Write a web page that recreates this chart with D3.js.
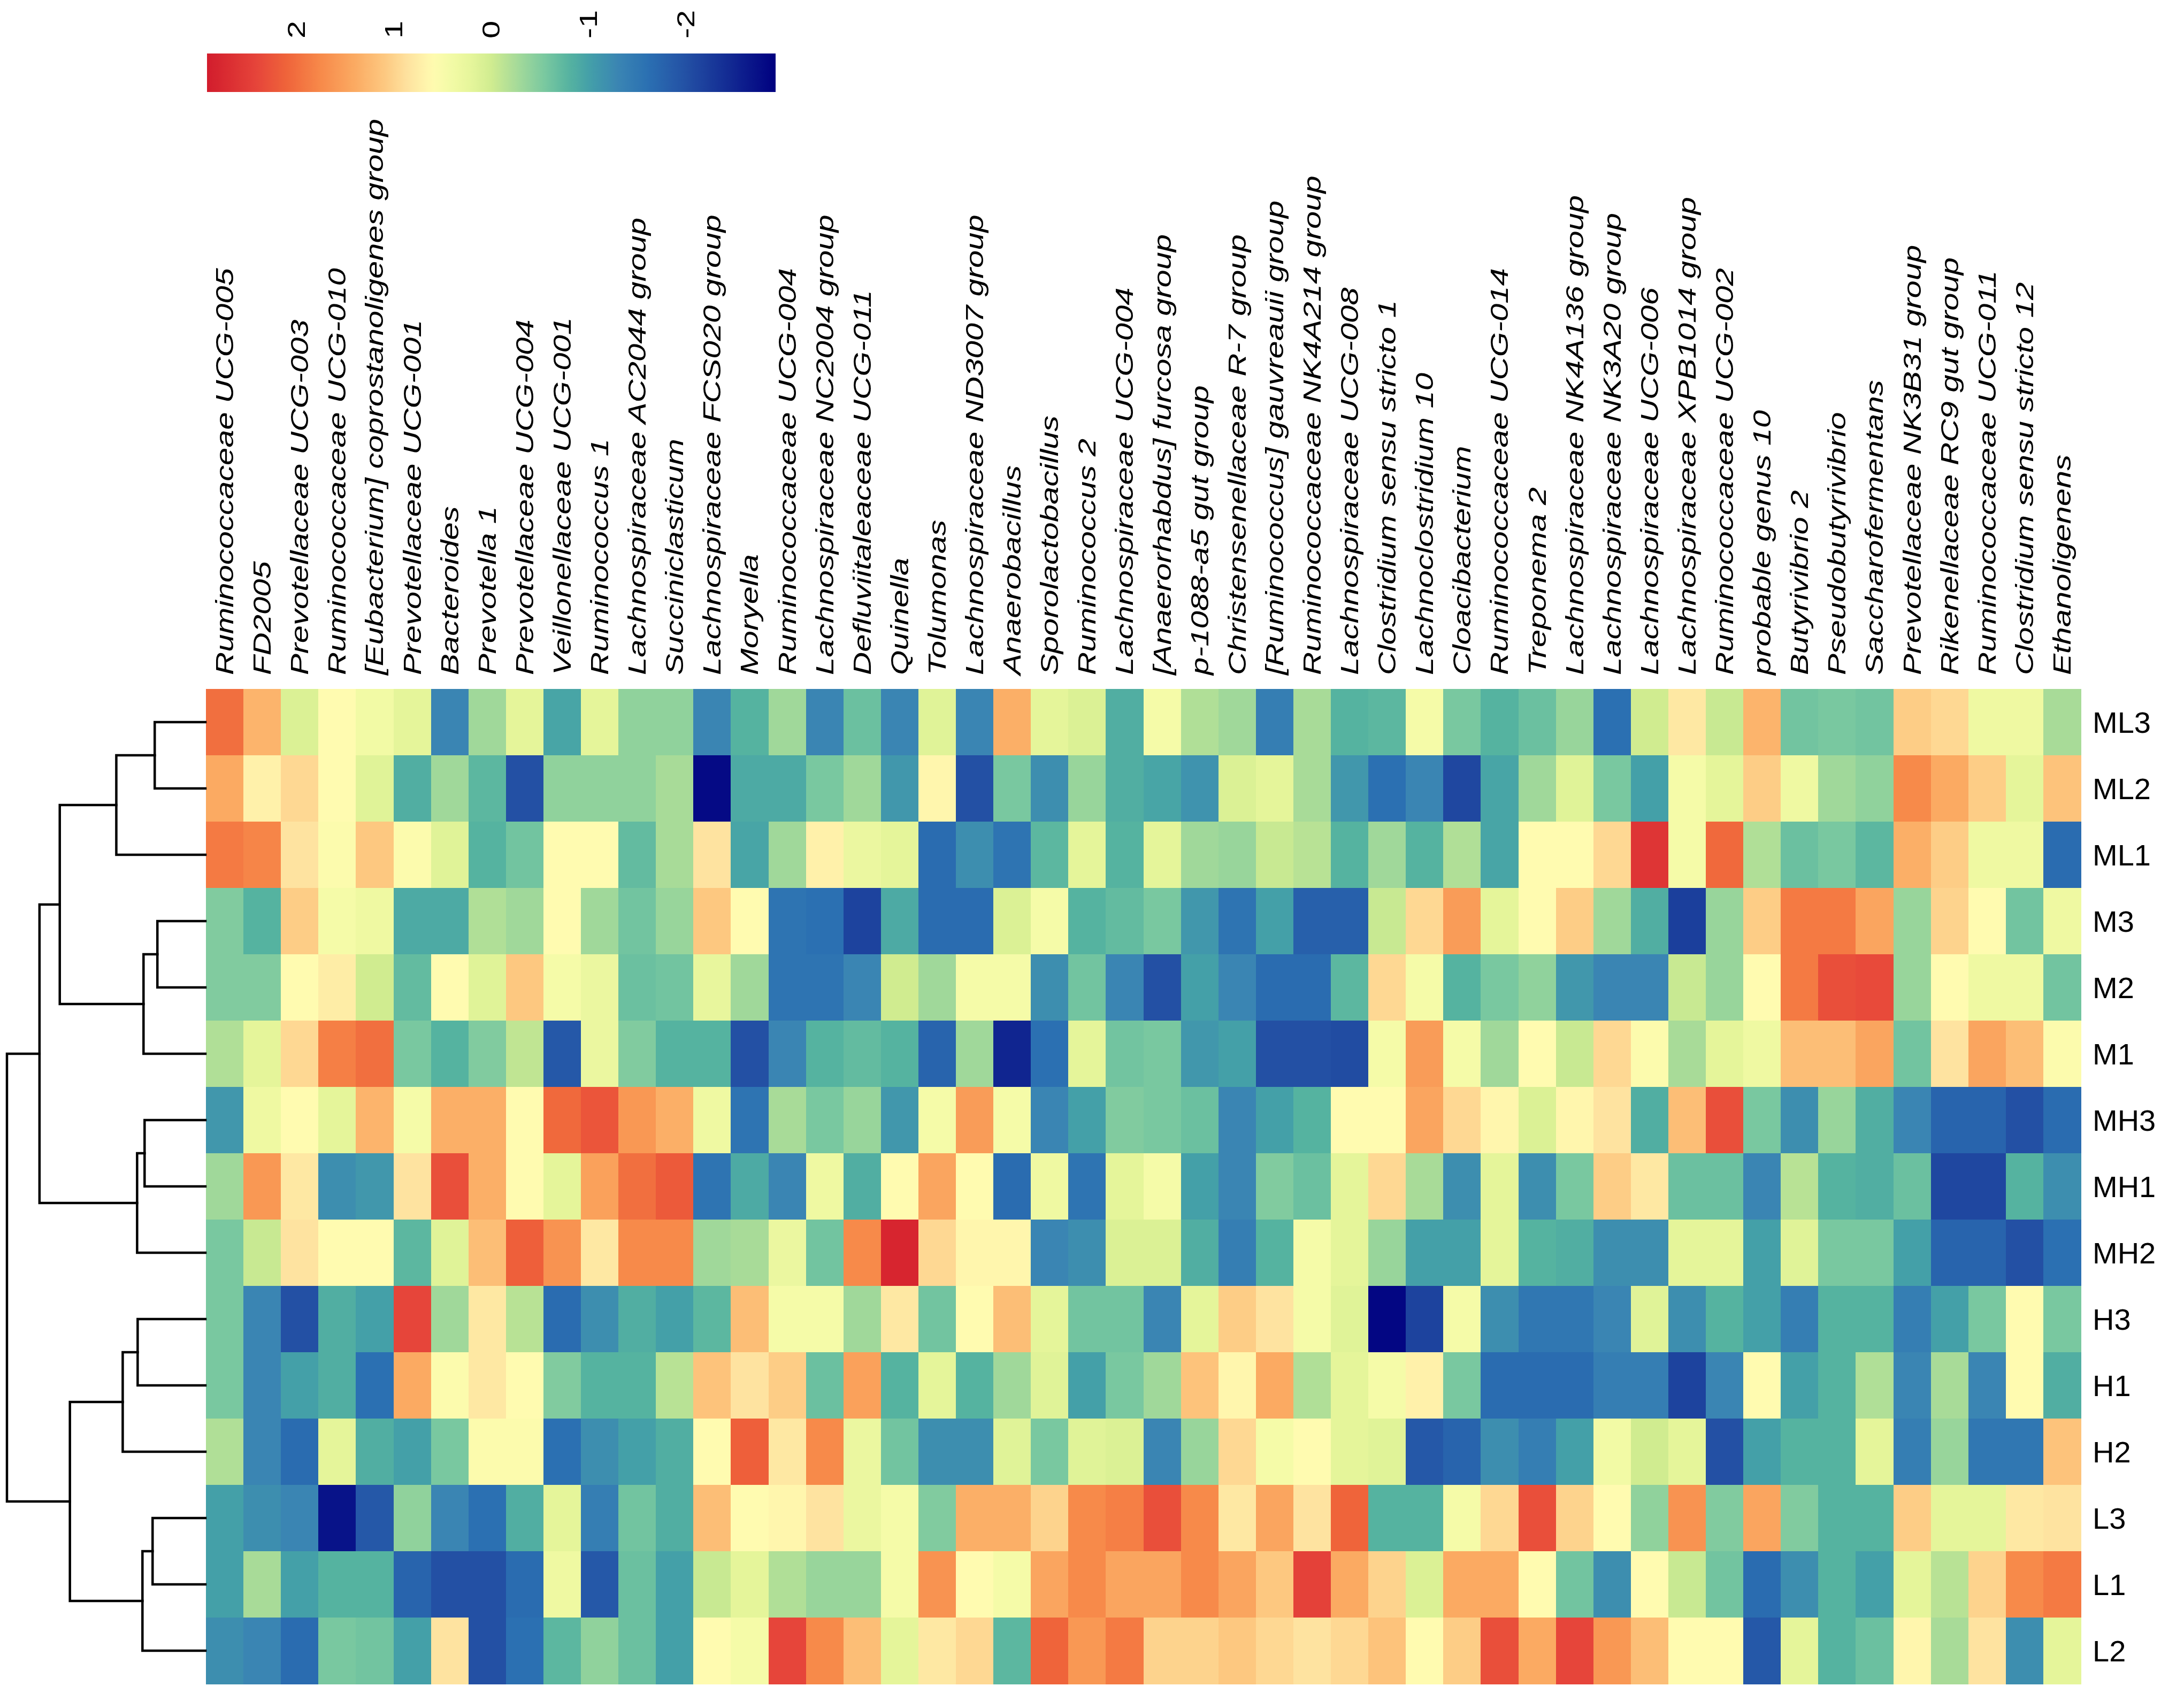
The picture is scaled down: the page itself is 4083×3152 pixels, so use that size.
<!DOCTYPE html>
<html>
<head>
<meta charset="utf-8">
<script src="https://cdn.jsdelivr.net/npm/d3@7"></script>
<style>
html,body{margin:0;padding:0;background:#fff;}
svg{display:block;}
</style>
</head>
<body>
<svg id="chart" width="4083" height="3152"></svg>
<script>
// ---------------- DATA ----------------
const genera = [
  "Ruminococcaceae UCG-005","FD2005","Prevotellaceae UCG-003","Ruminococcaceae UCG-010",
  "[Eubacterium] coprostanoligenes group","Prevotellaceae UCG-001","Bacteroides","Prevotella 1",
  "Prevotellaceae UCG-004","Veillonellaceae UCG-001","Ruminococcus 1","Lachnospiraceae AC2044 group",
  "Succiniclasticum","Lachnospiraceae FCS020 group","Moryella","Ruminococcaceae UCG-004",
  "Lachnospiraceae NC2004 group","Defluviitaleaceae UCG-011","Quinella","Tolumonas",
  "Lachnospiraceae ND3007 group","Anaerobacillus","Sporolactobacillus","Ruminococcus 2",
  "Lachnospiraceae UCG-004","[Anaerorhabdus] furcosa group","p-1088-a5 gut group",
  "Christensenellaceae R-7 group","[Ruminococcus] gauvreauii group","Ruminococcaceae NK4A214 group",
  "Lachnospiraceae UCG-008","Clostridium sensu stricto 1","Lachnoclostridium 10","Cloacibacterium",
  "Ruminococcaceae UCG-014","Treponema 2","Lachnospiraceae NK4A136 group","Lachnospiraceae NK3A20 group",
  "Lachnospiraceae UCG-006","Lachnospiraceae XPB1014 group","Ruminococcaceae UCG-002","probable genus 10",
  "Butyrivibrio 2","Pseudobutyrivibrio","Saccharofermentans","Prevotellaceae NK3B31 group",
  "Rikenellaceae RC9 gut group","Ruminococcaceae UCG-011","Clostridium sensu stricto 12","Ethanoligenens"
];

const samples = ["ML3","ML2","ML1","M3","M2","M1","MH3","MH1","MH2","H3","H1","H2","L3","L1","L2"];

const rowML3 = [2.0,1.3,0.1,0.6,0.4,0.2,-1.3,-0.3,0.2,-0.95,0.2,-0.4,-0.4,-1.3,-0.8,-0.3,-1.3,
  -0.65,-1.3,0.15,-1.3,1.35,0.2,0.1,-0.85,0.45,-0.2,-0.3,-1.4,-0.25,-0.8,-0.75,0.45,-0.55,
  -0.8,-0.65,-0.35,-1.6,0.0,0.8,-0.05,1.3,-0.6,-0.55,-0.6,1.05,0.95,0.35,0.35,-0.25];
const rowML2 = [1.4,0.7,0.95,0.6,0.15,-0.85,-0.3,-0.75,-2.0,-0.4,-0.4,-0.4,-0.25,-2.8,-0.9,-0.9,-0.55,
  -0.3,-1.1,0.65,-2.0,-0.55,-1.2,-0.35,-0.85,-0.95,-1.15,0.1,0.2,-0.25,-1.1,-1.6,-1.3,-2.1,
  -0.95,-0.3,0.15,-0.55,-1.0,0.45,0.2,1.05,0.35,-0.3,-0.4,1.75,1.4,1.05,0.2,1.15];
const rowML1 = [1.9,1.8,0.85,0.55,1.1,0.55,0.15,-0.8,-0.6,0.6,0.6,-0.7,-0.25,0.85,-0.95,-0.3,0.7,
  0.3,0.2,-1.65,-1.2,-1.55,-0.75,0.2,-0.8,0.2,-0.3,-0.35,-0.05,-0.15,-0.8,-0.3,-0.8,-0.2,
  -0.95,0.6,0.6,0.95,2.6,0.45,2.05,-0.2,-0.65,-0.55,-0.75,1.35,1.05,0.35,0.35,-1.65];
const rowM3 = [-0.5,-0.8,1.05,0.45,0.35,-0.9,-0.9,-0.2,-0.3,0.6,-0.3,-0.6,-0.35,1.1,0.6,-1.55,-1.6,
  -2.15,-0.9,-1.65,-1.65,0.1,0.45,-0.8,-0.7,-0.55,-1.1,-1.55,-1.0,-1.8,-1.8,-0.05,0.95,1.55,
  0.2,0.6,1.05,-0.3,-0.85,-2.2,-0.35,1.05,1.9,1.9,1.45,-0.35,1.0,0.6,-0.6,0.35];
const rowM2 = [-0.5,-0.5,0.6,0.75,0.0,-0.7,0.6,0.15,1.1,0.45,0.3,-0.65,-0.6,0.25,-0.3,-1.55,-1.55,
  -1.3,0.0,-0.3,0.45,0.45,-1.2,-0.6,-1.3,-2.0,-1.0,-1.3,-1.65,-1.65,-0.75,0.95,0.45,-0.8,
  -0.55,-0.4,-1.1,-1.3,-1.3,-0.05,-0.35,0.6,1.9,2.3,2.35,-0.35,0.6,0.35,0.35,-0.6];
const rowM1 = [-0.2,0.2,0.95,1.85,2.0,-0.55,-0.8,-0.5,-0.1,-1.9,0.3,-0.5,-0.8,-0.8,-2.0,-1.3,-0.8,
  -0.7,-0.8,-1.75,-0.3,-2.5,-1.6,0.2,-0.6,-0.55,-1.1,-1.0,-2.0,-2.0,-2.05,0.45,1.55,0.45,
  -0.3,0.6,-0.05,0.95,0.55,-0.25,0.2,0.35,1.2,1.2,1.45,-0.6,0.85,1.45,1.2,0.55];
const rowMH3 = [-1.1,0.35,0.6,0.2,1.3,0.45,1.35,1.35,0.6,2.05,2.25,1.6,1.35,0.35,-1.55,-0.25,-0.55,
  -0.35,-1.1,0.45,1.55,0.45,-1.3,-1.0,-0.5,-0.55,-0.65,-1.3,-1.0,-0.8,0.6,0.6,1.45,0.95,
  0.65,0.1,0.65,0.85,-0.85,1.2,2.3,-0.55,-1.2,-0.35,-0.85,-1.3,-1.75,-1.75,-2.0,-1.65];
const rowMH1 = [-0.3,1.6,0.8,-1.2,-1.1,0.85,2.3,1.35,0.6,0.2,1.5,2.0,2.2,-1.55,-0.9,-1.3,0.35,
  -0.85,0.6,1.45,0.6,-1.65,0.35,-1.55,0.2,0.45,-1.0,-1.3,-0.5,-0.65,0.2,0.95,-0.25,-1.2,
  0.2,-1.2,-0.55,1.05,0.8,-0.65,-0.65,-1.3,-0.15,-0.8,-0.85,-0.65,-2.1,-2.1,-0.8,-1.2];
const rowMH2 = [-0.55,-0.05,0.85,0.6,0.6,-0.75,0.15,1.2,2.15,1.65,0.8,1.75,1.75,-0.3,-0.25,0.3,-0.6,
  1.75,2.8,0.95,0.65,0.65,-1.3,-1.2,0.1,0.1,-0.85,-1.4,-0.8,0.45,0.2,-0.35,-1.0,-1.0,
  0.2,-0.8,-0.85,-1.2,-1.2,0.2,0.2,-1.0,0.15,-0.55,-0.55,-1.0,-1.75,-1.75,-2.0,-1.6];
const rowH3 = [-0.55,-1.3,-2.0,-0.85,-1.0,2.4,-0.3,0.8,-0.15,-1.65,-1.2,-0.85,-1.0,-0.75,1.2,0.45,0.45,
  -0.3,0.8,-0.6,0.6,1.2,0.2,-0.6,-0.6,-1.3,0.2,1.05,0.85,0.45,0.15,-2.85,-2.15,0.45,
  -1.2,-1.5,-1.5,-1.3,0.15,-1.2,-0.8,-1.0,-1.4,-0.8,-0.8,-1.4,-1.0,-0.55,0.6,-0.55];
const rowH1 = [-0.55,-1.3,-1.0,-0.85,-1.6,1.4,0.55,0.8,0.6,-0.5,-0.8,-0.8,-0.15,1.15,0.85,1.05,-0.65,
  1.5,-0.8,0.2,-0.8,-0.3,0.15,-1.0,-0.55,-0.3,1.15,0.65,1.4,-0.2,0.2,0.45,0.7,-0.55,
  -1.65,-1.65,-1.65,-1.4,-1.4,-2.15,-1.3,0.6,-1.0,-0.8,-0.2,-1.3,-0.25,-1.3,0.6,-0.85];
const rowH2 = [-0.2,-1.3,-1.65,0.2,-0.85,-1.0,-0.55,0.55,0.55,-1.6,-1.2,-1.0,-0.85,0.6,2.15,0.8,1.75,
  0.3,-0.6,-1.2,-1.2,0.15,-0.55,0.15,0.1,-1.3,-0.35,0.95,0.45,0.6,0.2,0.15,-1.9,-1.75,
  -1.2,-1.4,-1.0,0.4,0.0,0.2,-2.0,-1.0,-0.8,-0.8,0.2,-1.4,-0.35,-1.5,-1.5,1.15];
const rowL3 = [-1.0,-1.2,-1.3,-2.7,-1.9,-0.4,-1.3,-1.6,-0.85,0.2,-1.4,-0.6,-0.85,1.2,0.6,0.65,0.85,
  0.3,0.45,-0.5,1.35,1.35,1.0,1.75,1.85,2.3,1.75,0.8,1.45,0.85,2.1,-0.8,-0.8,0.45,
  0.95,2.3,1.0,0.6,-0.4,1.65,-0.5,1.45,-0.5,-0.8,-0.8,1.05,0.2,0.2,0.8,0.85];
const rowL1 = [-1.0,-0.25,-1.0,-0.8,-0.8,-1.75,-2.0,-2.0,-1.65,0.35,-1.9,-0.65,-1.0,-0.05,0.2,-0.2,-0.35,
  -0.35,0.45,1.65,0.6,0.45,1.45,1.75,1.45,1.45,1.75,1.45,1.1,2.45,1.4,1.0,0.1,1.4,
  1.4,0.6,-0.6,-1.2,0.6,-0.05,-0.6,-1.65,-1.2,-0.8,-1.0,0.2,-0.15,1.0,1.75,1.9];
const rowL2 = [-1.2,-1.3,-1.65,-0.55,-0.6,-1.0,0.85,-2.0,-1.6,-0.75,-0.4,-0.65,-1.0,0.6,0.45,2.4,1.75,
  1.2,0.2,0.8,0.95,-0.75,2.1,1.6,1.9,1.0,1.0,1.1,0.95,0.85,0.95,1.15,0.6,1.05,
  2.3,1.4,2.4,1.6,1.2,0.6,0.6,-1.9,0.2,-0.8,-0.65,0.65,-0.25,0.85,-1.2,0.2];

// row dendrogram (hierarchical merges): left child, right child, merge height
const mergeId     = ["a","b","c","d","e","f","g","i","j","k","l","m","n","o"];
const mergeLeft   = ["ML3","a","M3","c","b","MH3","f","e","H3","j","L3","l","k","i"];
const mergeRight  = ["ML2","ML1","M2","M1","d","MH1","MH2","g","H1","H2","L1","L2","m","n"];
const mergeHeight = [95,167,90,116,273,114,128,311,127,155,99,118,254,372];

// colour legend
const legendTicks  = [2,1,0,-1,-2];
const legendLabels = ["2","1","0","-1","-2"];
const legendRange  = [2.92,-2.92];

// palette stops (value -> colour)
const paletteValues = [-2.92,-2.0,-1.6,-1.3,-1.0,-0.8,-0.55,-0.3,0.0,0.2,0.45,0.6,0.85,1.1,1.4,1.75,2.1,2.4,2.92];
const paletteColors = ["#000080","#2350a4","#2b70b2","#3a85b3","#44a0a8","#55b3a0","#79c8a0","#a0d89a",
  "#d0ec90","#e5f59a","#f5fba8","#fffbb0","#fee3a0","#fdc880","#fbaa62","#f78a4a","#ef643a","#e6453a","#d21c2c"];

// ---------------- DRAW ----------------
const rows = [rowML3,rowML2,rowML1,rowM3,rowM2,rowM1,rowMH3,rowMH1,rowMH2,rowH3,rowH1,rowH2,rowL3,rowL1,rowL2];
const FONT = "'Liberation Sans', Arial, Helvetica, sans-serif";

const svg = d3.select("#chart");
const color = d3.scaleLinear().domain(paletteValues).range(paletteColors)
  .interpolate(d3.interpolateRgb).clamp(true);

const x = d3.scaleBand().domain(genera).range([385, 3890]);
const y = d3.scaleBand().domain(samples).range([1288, 3148]);

// cells
const cells = [];
samples.forEach((s, i) => rows[i].forEach((v, j) => cells.push({s: s, g: genera[j], v: v})));
svg.append("g")
  .selectAll("rect").data(cells).join("rect")
  .attr("x", d => x(d.g)).attr("y", d => y(d.s))
  .attr("width", x.bandwidth() + 0.7).attr("height", y.bandwidth() + 0.7)
  .attr("fill", d => color(d.v))
  .attr("shape-rendering", "crispEdges");

// column labels
svg.append("g")
  .selectAll("text").data(genera).join("text")
  .attr("transform", d => `translate(${x(d) + x.bandwidth() / 2},1262) rotate(-90) scale(1.3,1)`)
  .attr("text-anchor", "start")
  .attr("dominant-baseline", "central")
  .style("font-family", FONT).style("font-style", "italic").style("font-size", "46px")
  .attr("fill", "#000")
  .text(d => d);

// row labels
svg.append("g")
  .selectAll("text").data(samples).join("text")
  .attr("x", 3912).attr("y", d => y(d) + y.bandwidth() / 2)
  .attr("dominant-baseline", "central")
  .style("font-family", FONT).style("font-size", "56px")
  .attr("fill", "#000")
  .text(d => d);

// dendrogram
const hx = d3.scaleLinear().domain([0, 372]).range([384, 13]);
const nodeY = {}, nodeH = {};
samples.forEach(s => { nodeY[s] = y(s) + y.bandwidth() / 2; nodeH[s] = 0; });
const links = [];
mergeId.forEach((id, k) => {
  const L = mergeLeft[k], R = mergeRight[k], h = mergeHeight[k];
  nodeY[id] = (nodeY[L] + nodeY[R]) / 2;
  nodeH[id] = h;
  links.push({L: L, R: R, h: h});
});
svg.append("g")
  .selectAll("path").data(links).join("path")
  .attr("d", d => `M${hx(nodeH[d.L])},${nodeY[d.L]}H${hx(d.h)}V${nodeY[d.R]}H${hx(nodeH[d.R])}`)
  .attr("fill", "none").attr("stroke", "#000").attr("stroke-width", 4.5)
  .attr("stroke-linecap", "square");

// colour legend
const cb = d3.scaleLinear().domain(legendRange).range([387, 1450]);
const defs = svg.append("defs");
const grad = defs.append("linearGradient").attr("id", "cbgrad")
  .attr("x1", "0%").attr("x2", "100%").attr("y1", "0%").attr("y2", "0%");
grad.selectAll("stop").data(d3.range(0, 101)).join("stop")
  .attr("offset", t => t + "%")
  .attr("stop-color", t => color(cb.invert(387 + (1450 - 387) * t / 100)));
svg.append("rect")
  .attr("x", cb.range()[0]).attr("y", 100)
  .attr("width", cb.range()[1] - cb.range()[0]).attr("height", 72)
  .attr("fill", "url(#cbgrad)");
svg.append("g")
  .selectAll("text").data(legendTicks).join("text")
  .attr("transform", d => `translate(${cb(d)},72) rotate(-90) scale(1.3,1)`)
  .attr("text-anchor", "start")
  .attr("dominant-baseline", "central")
  .style("font-family", FONT).style("font-size", "46px")
  .attr("fill", "#000")
  .text((d, i) => legendLabels[i]);
</script>
</body>
</html>
